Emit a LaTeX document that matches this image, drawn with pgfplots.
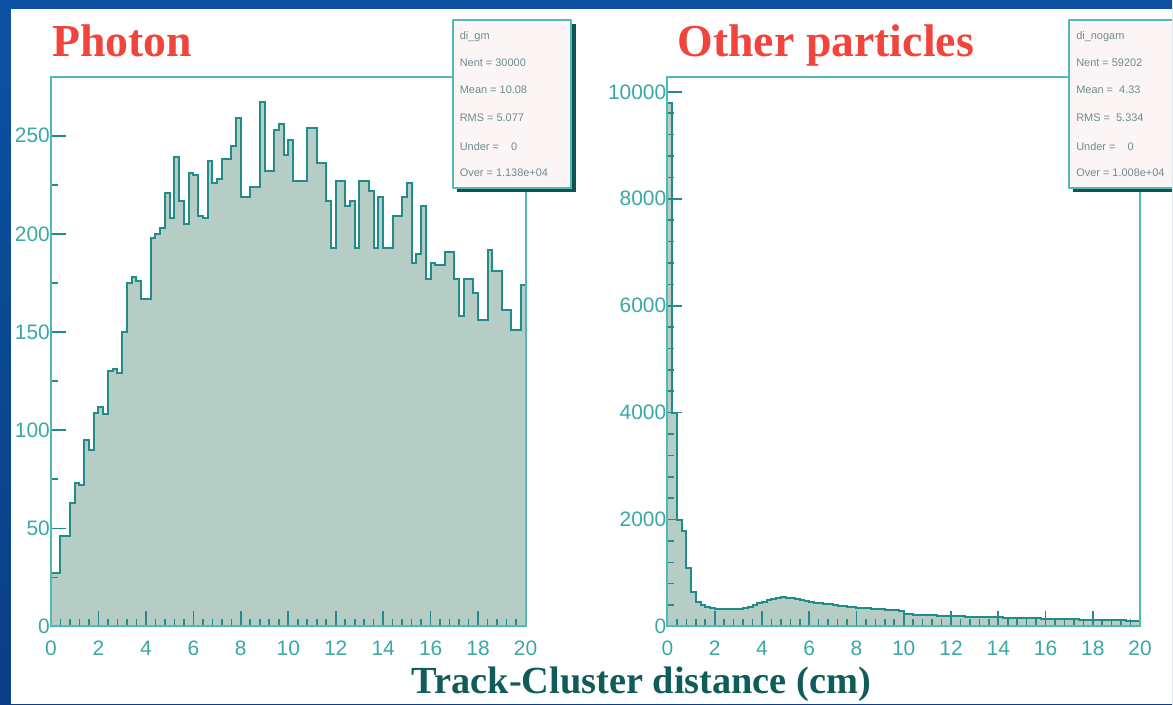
\documentclass[border=0pt]{standalone}
\usepackage{fontspec}
\setmainfont{Liberation Serif}
\setsansfont{Liberation Sans}
\usepackage{pgfplots}
\pgfplotsset{compat=1.18}

\definecolor{bgtop}{RGB}{12,82,162}
\definecolor{bgbot}{RGB}{10,62,134}
\definecolor{histfill}{RGB}{181,205,196}
\definecolor{histline}{RGB}{34,140,138}
\definecolor{axisteal}{RGB}{84,184,180}
\definecolor{ticklab}{RGB}{58,168,165}
\definecolor{titlered}{RGB}{240,68,60}
\definecolor{xlabteal}{RGB}{16,92,90}
\definecolor{boxfill}{RGB}{251,245,246}
\definecolor{boxshadow}{RGB}{14,84,82}
\definecolor{boxtext}{RGB}{110,140,140}

\pgfplotsset{
  rootaxis/.style={
    scale only axis, anchor=south west,
    height=550bp,
    xmin=0, xmax=20, ymin=0,
    axis on top,
    axis line style={draw=axisteal, line width=2bp},
    xtick={0,2,...,20}, minor x tick num=4,
    xtick pos=bottom, ytick pos=left,
    tick align=inside,
    major tick length=15bp, minor tick length=7bp,
    every tick/.style={draw=histline, line width=1.6bp},
    scaled y ticks=false,
    /pgf/number format/1000 sep={},
    /pgf/number format/assume math mode=true,
    ticklabel style={font=\sffamily\fontsize{21}{21}\selectfont, text=ticklab},
    xticklabel style={inner sep=0pt, yshift=-14bp},
    yticklabel style={anchor=east, inner sep=0pt, xshift=-1bp},
  },
  histo/.style={const plot mark left, fill=histfill, draw=histline, line width=2bp},
}

\begin{document}
\begin{tikzpicture}
\begin{scope}[x=1bp,y=1bp]
\useasboundingbox (0,0) rectangle (1173,705);
\shade[top color=bgtop, bottom color=bgbot] (0,0) rectangle (1173,705);
\fill[white] (11,0) rectangle (1173,695.5);
\end{scope}

% ---------------- photons ----------------
\begin{axis}[rootaxis, at={(51bp,78bp)}, width=475bp, ymax=280,
  ytick={0,50,...,250}, minor y tick num=1]
\addplot[histo] coordinates {
(0.0,27) (0.2,27) (0.4,46) (0.6,46) (0.8,63) (1.0,73) (1.2,72) (1.4,95) (1.6,90) (1.8,109)
(2.0,112) (2.2,108) (2.4,130) (2.6,131) (2.8,129) (3.0,150) (3.2,175) (3.4,178) (3.6,176) (3.8,167)
(4.0,167) (4.2,198) (4.4,200) (4.6,203) (4.8,221) (5.0,208) (5.2,239) (5.4,217) (5.6,205) (5.8,231)
(6.0,230) (6.2,209) (6.4,208) (6.6,237) (6.8,226) (7.0,228) (7.2,238) (7.4,238) (7.6,245) (7.8,259)
(8.0,219) (8.2,219) (8.4,224) (8.6,224) (8.8,267) (9.0,232) (9.2,232) (9.4,253) (9.6,256) (9.8,240)
(10.0,248) (10.2,227) (10.4,227) (10.6,227) (10.8,254) (11.0,254) (11.2,236) (11.4,236) (11.6,217) (11.8,193)
(12.0,227) (12.2,227) (12.4,214) (12.6,217) (12.8,193) (13.0,227) (13.2,227) (13.4,222) (13.6,193) (13.8,219)
(14.0,193) (14.2,193) (14.4,209) (14.6,209) (14.8,219) (15.0,226) (15.2,185) (15.4,190) (15.6,214) (15.8,177)
(16.0,185) (16.2,184) (16.4,184) (16.6,191) (16.8,191) (17.0,177) (17.2,158) (17.4,177) (17.6,177) (17.8,170)
(18.0,156) (18.2,156) (18.4,192) (18.6,181) (18.8,181) (19.0,161) (19.2,161) (19.4,151) (19.6,151) (19.8,174)
(20.0,174)
} \closedcycle;
\end{axis}

% ---------------- other particles ----------------
\begin{axis}[rootaxis, at={(668bp,78bp)}, width=473bp, ymax=10280,
  ytick={0,2000,...,10000}, minor y tick num=4]
\addplot[histo] coordinates {
(0.0,9800) (0.2,4000) (0.4,2000) (0.6,1780) (0.8,1100) (1.0,640) (1.2,450) (1.4,400) (1.6,360) (1.8,340)
(2.0,330) (2.2,322) (2.4,318) (2.6,324) (2.8,326) (3.0,332) (3.2,345) (3.4,372) (3.6,398) (3.8,432)
(4.0,458) (4.2,492) (4.4,518) (4.6,541) (4.8,546) (5.0,538) (5.2,531) (5.4,508) (5.6,492) (5.8,468)
(6.0,462) (6.2,448) (6.4,441) (6.6,418) (6.8,412) (7.0,398) (7.2,392) (7.4,378) (7.6,372) (7.8,358)
(8.0,352) (8.2,338) (8.4,336) (8.6,328) (8.8,326) (9.0,318) (9.2,316) (9.4,308) (9.6,306) (9.8,298)
(10.0,232) (10.2,224) (10.4,223) (10.6,216) (10.8,217) (11.0,210) (11.2,209) (11.4,203) (11.6,204) (11.8,196)
(12.0,197) (12.2,190) (12.4,191) (12.6,185) (12.8,184) (13.0,179) (13.2,180) (13.4,174) (13.6,173) (13.8,169)
(14.0,170) (14.2,164) (14.4,163) (14.6,160) (14.8,159) (15.0,154) (15.2,153) (15.4,150) (15.6,149) (15.8,145)
(16.0,146) (16.2,141) (16.4,142) (16.6,137) (16.8,138) (17.0,133) (17.2,134) (17.4,129) (17.6,130) (17.8,125)
(18.0,126) (18.2,121) (18.4,122) (18.6,117) (18.8,118) (19.0,113) (19.2,114) (19.4,109) (19.6,110) (19.8,106)
(20.0,106)
} \closedcycle;
\end{axis}

\begin{scope}[x=1bp,y=1bp]
% titles
\node[anchor=base west, inner sep=0pt, text=titlered, font=\bfseries\fontsize{46}{46}\selectfont] at (52,648) {Photon};
\node[anchor=base west, inner sep=0pt, text=titlered, font=\bfseries\fontsize{46}{46}\selectfont] at (678,648) {Other particles};

% statistics boxes
\fill[boxshadow] (457,513) rectangle (576,681);
\filldraw[fill=boxfill, draw=axisteal, line width=2bp] (453,517) rectangle (571,685);
\begin{scope}[every node/.style={anchor=west, inner sep=0pt, text=boxtext, font=\sffamily\fontsize{11}{11}\selectfont}]
\node at (460,668) {di\_gm};
\node at (460,642) {Nent = 30000};
\node at (460,615) {Mean = 10.08};
\node at (460,587) {RMS = 5.077};
\node at (460,558) {Under = \ \ \ 0};
\node at (460,532) {Over = 1.138e+04};
\end{scope}

\fill[boxshadow] (1074,513) rectangle (1173,681);
\fill[boxfill] (1070,517) rectangle (1173,685);
\draw[draw=axisteal, line width=2bp] (1173,685) -- (1070,685) -- (1070,517) -- (1173,517);
\begin{scope}[every node/.style={anchor=west, inner sep=0pt, text=boxtext, font=\sffamily\fontsize{11}{11}\selectfont}]
\node at (1077,668) {di\_nogam};
\node at (1077,642) {Nent = 59202};
\node at (1077,615) {Mean = \ 4.33};
\node at (1077,587) {RMS = \ 5.334};
\node at (1077,558) {Under = \ \ \ 0};
\node at (1077,532) {Over = 1.008e+04};
\end{scope}

% common x label
\node[anchor=base, inner sep=0pt, text=xlabteal, font=\bfseries\fontsize{38.5}{38.5}\selectfont] at (642,11) {Track-Cluster distance (cm)};
\end{scope}
\end{tikzpicture}
\end{document}
